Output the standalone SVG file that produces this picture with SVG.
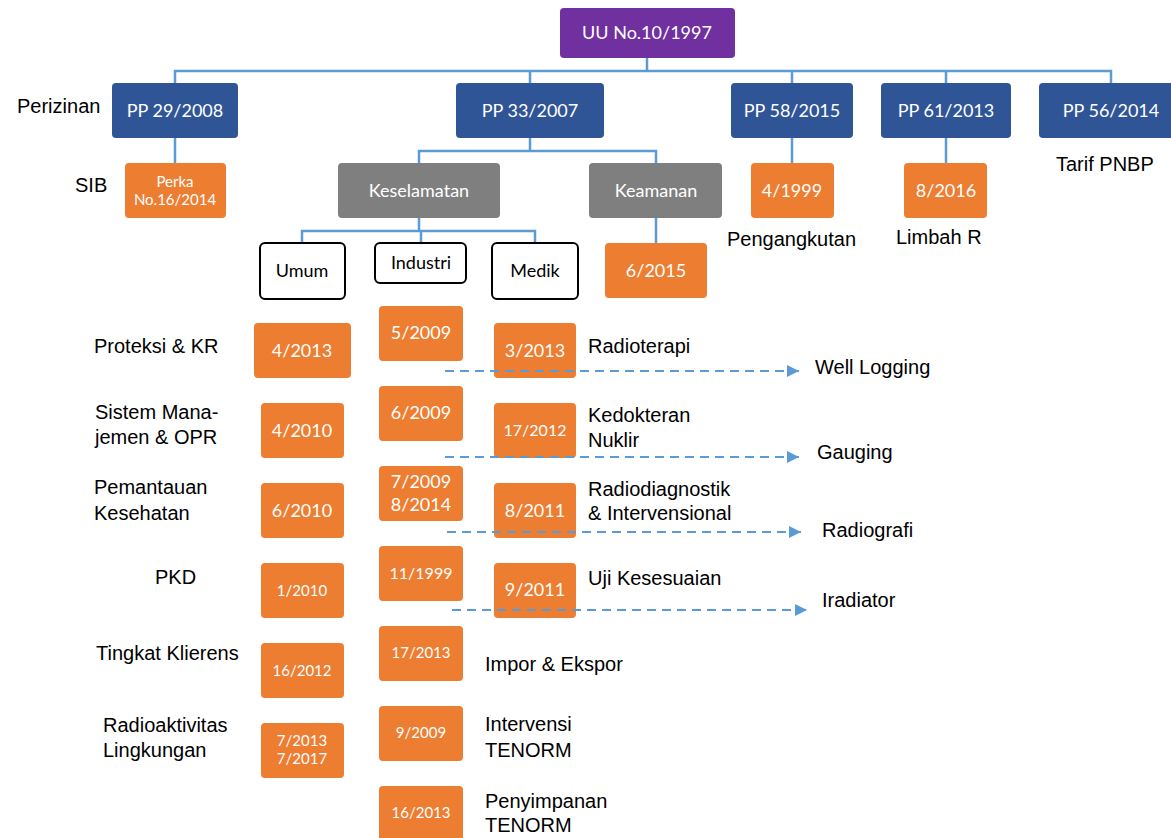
<svg xmlns="http://www.w3.org/2000/svg" width="1171" height="838" viewBox="0 0 1171 838">
<defs>
<style>
.bx{stroke:none}
.pu{fill:#7030A0}
.bl{fill:#2F5597}
.or{fill:#ED7D31}
.gr{fill:#7F7F7F}
.wh{fill:#FFFFFF;stroke:#000;stroke-width:2}
.t{font-family:Lato,"Open Sans","Liberation Sans",sans-serif;fill:#fff;text-anchor:middle}
.tk{font-family:Lato,"Open Sans","Liberation Sans",sans-serif;fill:#000;text-anchor:middle;font-size:18px}
.lb{font-family:"Liberation Sans",Arial,sans-serif;font-size:20px;fill:#000}
.c{fill:none;stroke:#5B9BD5;stroke-width:2.5}
.d{fill:none;stroke:#5B9BD5;stroke-width:2;stroke-dasharray:9 6}
</style>
<marker id="ar" viewBox="0 0 12 12" refX="12" refY="6" markerWidth="12" markerHeight="12" markerUnits="userSpaceOnUse" orient="auto">
<path d="M0,0 L12,6 L0,12 z" fill="#5B9BD5"/>
</marker>
</defs>
<rect width="1171" height="838" fill="#fff"/>

<g id="uu"><rect class="bx pu" x="560" y="8" width="175" height="50" rx="4"/><text class="t" x="647" y="39" font-size="18">UU No.10/1997</text></g>

<g id="pp29"><rect class="bx bl" x="112" y="83" width="126" height="55" rx="4"/><text class="t" x="175" y="117" font-size="18">PP 29/2008</text></g>
<g id="pp33"><rect class="bx bl" x="456" y="83" width="148" height="55" rx="4"/><text class="t" x="530" y="117" font-size="18">PP 33/2007</text></g>
<g id="pp58"><rect class="bx bl" x="731" y="83" width="122" height="55" rx="4"/><text class="t" x="792" y="117" font-size="18">PP 58/2015</text></g>
<g id="pp61"><rect class="bx bl" x="881" y="83" width="130" height="55" rx="4"/><text class="t" x="946" y="117" font-size="18">PP 61/2013</text></g>
<g id="pp56"><rect class="bx bl" x="1039" y="83" width="145" height="55" rx="4"/><text class="t" x="1111" y="117" font-size="18">PP 56/2014</text></g>

<g id="perka"><rect class="bx or" x="125" y="163" width="101" height="55" rx="4"/><text class="t" x="175" y="187" font-size="15">Perka</text><text class="t" x="175" y="205" font-size="15">No.16/2014</text></g>
<g id="keselamatan"><rect class="bx gr" x="338" y="163" width="162" height="55" rx="4"/><text class="t" x="419" y="197" font-size="18">Keselamatan</text></g>
<g id="keamanan"><rect class="bx gr" x="589" y="163" width="133" height="55" rx="4"/><text class="t" x="656" y="197" font-size="18">Keamanan</text></g>
<g id="n4-1999"><rect class="bx or" x="751" y="163" width="83" height="55" rx="4"/><text class="t" x="792" y="197" font-size="18">4/1999</text></g>
<g id="n8-2016"><rect class="bx or" x="904" y="163" width="83" height="55" rx="4"/><text class="t" x="946" y="197" font-size="18">8/2016</text></g>

<g id="umum"><rect class="wh" x="260" y="243" width="85" height="56" rx="5"/><text class="tk" x="302" y="277">Umum</text></g>
<g id="industri"><rect class="wh" x="375" y="243" width="91" height="40" rx="5"/><text class="tk" x="421" y="269">Industri</text></g>
<g id="medik"><rect class="wh" x="492" y="243" width="86" height="56" rx="5"/><text class="tk" x="535" y="277">Medik</text></g>
<g id="n6-2015"><rect class="bx or" x="605" y="243" width="102" height="55" rx="4"/><text class="t" x="656" y="277" font-size="18">6/2015</text></g>

<g id="u1"><rect class="bx or" x="254" y="323" width="97" height="55" rx="4"/><text class="t" x="302" y="357" font-size="18">4/2013</text></g>
<g id="u2"><rect class="bx or" x="261" y="403" width="83" height="55" rx="4"/><text class="t" x="302" y="437" font-size="18">4/2010</text></g>
<g id="u3"><rect class="bx or" x="261" y="483" width="83" height="55" rx="4"/><text class="t" x="302" y="517" font-size="18">6/2010</text></g>
<g id="u4"><rect class="bx or" x="261" y="563" width="83" height="55" rx="4"/><text class="t" x="302" y="596" font-size="15">1/2010</text></g>
<g id="u5"><rect class="bx or" x="261" y="643" width="83" height="55" rx="4"/><text class="t" x="302" y="676" font-size="15">16/2012</text></g>
<g id="u6"><rect class="bx or" x="261" y="723" width="83" height="55" rx="4"/><text class="t" x="302" y="746" font-size="15">7/2013</text><text class="t" x="302" y="764" font-size="15">7/2017</text></g>

<g id="i1"><rect class="bx or" x="379" y="306" width="84" height="55" rx="4"/><text class="t" x="421" y="339" font-size="18">5/2009</text></g>
<g id="i2"><rect class="bx or" x="379" y="386" width="84" height="55" rx="4"/><text class="t" x="421" y="419" font-size="18">6/2009</text></g>
<g id="i3"><rect class="bx or" x="379" y="466" width="84" height="55" rx="4"/><text class="t" x="421" y="488" font-size="18">7/2009</text><text class="t" x="421" y="511" font-size="18">8/2014</text></g>
<g id="i4"><rect class="bx or" x="379" y="546" width="84" height="55" rx="4"/><text class="t" x="421" y="579" font-size="16">11/1999</text></g>
<g id="i5"><rect class="bx or" x="379" y="626" width="84" height="55" rx="4"/><text class="t" x="421" y="658" font-size="15">17/2013</text></g>
<g id="i6"><rect class="bx or" x="379" y="706" width="84" height="55" rx="4"/><text class="t" x="421" y="738" font-size="15">9/2009</text></g>
<g id="i7"><rect class="bx or" x="379" y="786" width="84" height="55" rx="4"/><text class="t" x="421" y="818" font-size="15">16/2013</text></g>

<g id="m1"><rect class="bx or" x="494" y="323" width="82" height="55" rx="4"/><text class="t" x="535" y="357" font-size="18">3/2013</text></g>
<g id="m2"><rect class="bx or" x="494" y="403" width="82" height="55" rx="4"/><text class="t" x="535" y="436" font-size="16">17/2012</text></g>
<g id="m3"><rect class="bx or" x="494" y="483" width="82" height="55" rx="4"/><text class="t" x="535" y="517" font-size="18">8/2011</text></g>
<g id="m4"><rect class="bx or" x="494" y="563" width="82" height="55" rx="4"/><text class="t" x="535" y="596" font-size="18">9/2011</text></g>

<g id="labels">
<text class="lb" x="17" y="113">Perizinan</text>
<text class="lb" x="75" y="192">SIB</text>
<text class="lb" x="727" y="246">Pengangkutan</text>
<text class="lb" x="896" y="244">Limbah R</text>
<text class="lb" x="1056" y="171">Tarif PNBP</text>
<text class="lb" x="94" y="353">Proteksi &amp; KR</text>
<text class="lb" x="95" y="419">Sistem Mana-</text>
<text class="lb" x="95" y="444">jemen &amp; OPR</text>
<text class="lb" x="94" y="494">Pemantauan</text>
<text class="lb" x="94" y="520">Kesehatan</text>
<text class="lb" x="155" y="584">PKD</text>
<text class="lb" x="96" y="660">Tingkat Klierens</text>
<text class="lb" x="103" y="732">Radioaktivitas</text>
<text class="lb" x="103" y="757">Lingkungan</text>
<text class="lb" x="588" y="353">Radioterapi</text>
<text class="lb" x="588" y="422">Kedokteran</text>
<text class="lb" x="588" y="447">Nuklir</text>
<text class="lb" x="588" y="496">Radiodiagnostik</text>
<text class="lb" x="588" y="520">&amp; Intervensional</text>
<text class="lb" x="588" y="585">Uji Kesesuaian</text>
<text class="lb" x="485" y="671">Impor &amp; Ekspor</text>
<text class="lb" x="485" y="731">Intervensi</text>
<text class="lb" x="485" y="757">TENORM</text>
<text class="lb" x="485" y="808">Penyimpanan</text>
<text class="lb" x="485" y="832">TENORM</text>
<text class="lb" x="815" y="374">Well Logging</text>
<text class="lb" x="817" y="459">Gauging</text>
<text class="lb" x="822" y="537">Radiografi</text>
<text class="lb" x="822" y="607">Iradiator</text>
</g>

<g id="connectors">
<path class="c" d="M647,58 V71 M175,83 V71 H1111 V83 M530,71 V83 M792,71 V83 M946,71 V83"/>
<path class="c" d="M175,138 V163 M792,138 V163 M946,138 V163"/>
<path class="c" d="M530,138 V151 M419,163 V151 H656 V163"/>
<path class="c" d="M419,218 V231 M302,242 V231 H535 V242 M421,231 V242"/>
<path class="c" d="M656,218 V243"/>
<path class="d" d="M445,371 H799" marker-end="url(#ar)"/>
<path class="d" d="M445,457 H799" marker-end="url(#ar)"/>
<path class="d" d="M447,532 H801" marker-end="url(#ar)"/>
<path class="d" d="M452,610 H807" marker-end="url(#ar)"/>
</g>
</svg>
